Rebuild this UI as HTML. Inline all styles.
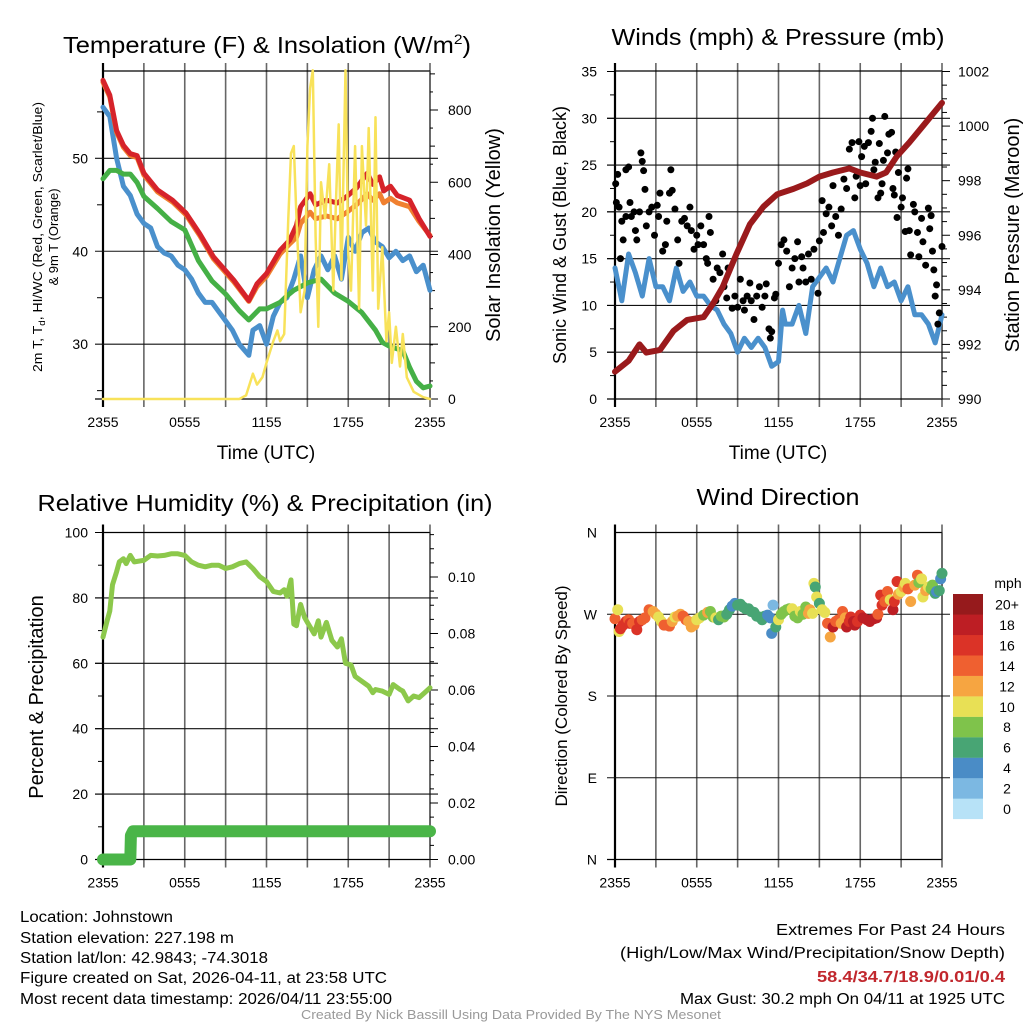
<!DOCTYPE html>
<html><head><meta charset="utf-8">
<style>
html,body{margin:0;padding:0;background:#fff;}
svg{display:block;font-family:"Liberation Sans",sans-serif;}
.nar{font-family:"Liberation Sans Narrow","Liberation Sans",sans-serif;}
</style></head>
<body>
<svg id="fig" width="1024" height="1024" viewBox="0 0 1024 1024" xmlns="http://www.w3.org/2000/svg">
<g id="layer"></g>
<text class="nar" x="267" y="53" font-size="23" text-anchor="middle" textLength="408" lengthAdjust="spacingAndGlyphs">Temperature (F) &amp; Insolation (W/m<tspan dy="-9" font-size="14">2</tspan><tspan dy="9">)</tspan></text>
<text class="nar" x="778" y="45" font-size="23" text-anchor="middle" textLength="333" lengthAdjust="spacingAndGlyphs">Winds (mph) &amp; Pressure (mb)</text>
<text class="nar" x="265" y="511" font-size="23" text-anchor="middle" textLength="455" lengthAdjust="spacingAndGlyphs">Relative Humidity (%) &amp; Precipitation (in)</text>
<text class="nar" x="778" y="505" font-size="23" text-anchor="middle" textLength="163" lengthAdjust="spacingAndGlyphs">Wind Direction</text>

<text font-size="13" text-anchor="middle" transform="translate(42,237) rotate(-90)" textLength="270" lengthAdjust="spacingAndGlyphs">2m T, T<tspan font-size="9" dy="3">d</tspan><tspan dy="-3">, HI/WC (Red, Green, Scarlet/Blue)</tspan></text>
<text font-size="13" text-anchor="middle" transform="translate(58,237) rotate(-90)">&amp; 9m T (Orange)</text>
<text font-size="20" text-anchor="middle" transform="translate(500,235) rotate(-90)">Solar Insolation (Yellow)</text>
<text font-size="18" text-anchor="middle" transform="translate(566,235) rotate(-90)">Sonic Wind &amp; Gust (Blue, Black)</text>
<text font-size="20" text-anchor="middle" transform="translate(1019,235) rotate(-90)">Station Pressure (Maroon)</text>
<text font-size="20" text-anchor="middle" transform="translate(43,697) rotate(-90)">Percent &amp; Precipitation</text>
<text font-size="17" text-anchor="middle" transform="translate(567,696) rotate(-90)">Direction (Colored By Speed)</text>
<text font-size="19" x="266" y="459" text-anchor="middle">Time (UTC)</text>
<text font-size="19" x="778" y="459" text-anchor="middle">Time (UTC)</text>

<g class="nar" font-size="15.5">
<text x="20" y="922" textLength="153" lengthAdjust="spacingAndGlyphs">Location: Johnstown</text>
<text x="20" y="943" textLength="214" lengthAdjust="spacingAndGlyphs">Station elevation: 227.198 m</text>
<text x="20" y="963" textLength="248" lengthAdjust="spacingAndGlyphs">Station lat/lon: 42.9843; -74.3018</text>
<text x="20" y="983" textLength="367" lengthAdjust="spacingAndGlyphs">Figure created on Sat, 2026-04-11, at 23:58 UTC</text>
<text x="20" y="1004" textLength="372" lengthAdjust="spacingAndGlyphs">Most recent data timestamp: 2026/04/11 23:55:00</text>
</g>
<g class="nar" font-size="15.5" text-anchor="end">
<text x="1005" y="935" textLength="229" lengthAdjust="spacingAndGlyphs">Extremes For Past 24 Hours</text>
<text x="1005" y="958" textLength="385" lengthAdjust="spacingAndGlyphs">(High/Low/Max Wind/Precipitation/Snow Depth)</text>
<text x="1005" y="982" fill="#c1272d" font-weight="bold" textLength="188" lengthAdjust="spacingAndGlyphs">58.4/34.7/18.9/0.01/0.4</text>
<text x="1005" y="1004" textLength="325" lengthAdjust="spacingAndGlyphs">Max Gust: 30.2 mph On 04/11 at 1925 UTC</text>
</g>
<text class="nar" x="511" y="1019" font-size="12.5" fill="#999" text-anchor="middle" textLength="420" lengthAdjust="spacingAndGlyphs">Created By Nick Bassill Using Data Provided By The NYS Mesonet</text>
</svg>
<script>
// ---------- DATA ----------
const timeTicks = ["2355","0555","1155","1755","2355"];
const tempTicks = [30,40,50];
const solarTicks = [0,200,400,600,800];
const windTicks = [0,5,10,15,20,25,30,35];
const presTicks = [990,992,994,996,998,1000,1002];
const rhTicks = [0,20,40,60,80,100];
const precipTicks = ["0.00","0.02","0.04","0.06","0.08","0.10"];
const dirTicks = ["N","E","S","W","N"];
const speedLabels = ["0","2","4","6","8","10","12","14","16","18","20+"];
const speedColors = ["#b7e2f7","#7cb8e2","#4a8cc6","#48a574","#7fc34b","#e8e055","#f6a541","#ef6030","#db3327","#bd1e24","#961a1c"];

const tempT = [0,0.5,1,1.5,2,2.5,3,4,5.1,6.1,7.1,8.1,9.6,10.7,11.3,12,13,13.7,14.2,14.5,15.2,15.6,16.4,17.2,17.9,18.6,19.4,19.8,20.3,20.6,21.1,21.6,22.5,23.2,24];
const tempRed = [58.4,56.8,53,51.4,50.5,50.3,48.4,46.6,45.5,44.1,41.9,39.4,36.9,34.7,36.5,37.6,40.1,41.2,42.8,44.8,46.2,45,45.5,45.2,45.9,46.8,48.4,47.2,48,46.5,47,46,45.5,43.5,41.6];
const tempOrange = [58.2,56.6,52.8,51.2,50.3,50.1,48.2,46.4,45.3,43.9,41.7,39.2,36.7,34.6,36.2,37.3,39.7,40.8,41.5,43,44.2,43.5,43.8,43.5,44.2,45,46.2,45.5,46.2,45.2,45.7,45.2,44.8,43.2,41.7];
const tdT = [0,0.5,1,1.5,2,2.5,3,4,5,6,7,8,9,10,10.7,11.5,12,13,13.5,14,15,16,17,18,19,20,20.5,21,22,22.5,23,23.5,24];
const tempGreen = [47.8,48.7,48.7,48.3,48.3,47.4,45.9,44.6,43.2,42.3,39,36.8,35.4,33.6,32.6,33.8,33.8,34.5,35.2,35.8,36.6,37,35.5,34.6,33.4,31.5,30.2,29.8,29.3,27.5,26,25.3,25.5];
const wcT = [0,0.5,1,1.5,2,2.5,3,3.5,4,4.5,5,5.5,6,6.5,7,7.5,8,8.5,9,9.5,10,10.7,11,11.5,12,12.5,13,13.5,14,14.5,15,15.5,16,16.5,17,17.5,18,18.5,19,19.5,20,20.5,21,21.5,22,22.5,23,23.5,24];
const tempBlue = [55.5,54.5,50,47,46,44,43,42.5,40.5,39.8,39.5,38.5,38,37,35.5,34.5,34.5,33.5,32.5,31.5,30,28.8,31.5,32,30,33,34.5,35,37,39.5,35,38,39.5,38,39.5,37,41.5,40,42,42.5,41,40.5,39.3,40,39,39.5,37.8,38.5,35.8];
const solarT = [0,10,10.5,11,11.3,11.7,12,12.5,12.8,13,13.3,13.6,13.8,14,14.2,14.5,14.8,15,15.2,15.4,15.6,15.8,16,16.3,16.6,16.9,17.1,17.3,17.5,17.8,18,18.2,18.5,18.8,19,19.3,19.5,19.8,20,20.2,20.5,20.8,21,21.2,21.5,21.8,22,22.3,22.8,23.5,24];
const solarW = [0,0,10,70,40,60,100,160,190,160,180,500,680,700,500,240,300,700,860,910,450,200,600,500,650,300,550,760,330,910,400,300,700,250,700,480,750,300,780,250,420,160,240,100,200,90,180,60,20,5,0];

const presT = [0,1,1.8,2.3,3.3,4.3,5.3,6.5,7.2,7.9,8.9,9.9,10.9,11.9,13.1,14.1,15,16,17.2,18,19.2,19.9,20.7,21.6,22.6,24];
const pressure = [991.0,991.4,992.0,991.7,991.8,992.5,992.9,993.0,993.5,994.1,995.3,996.4,997.05,997.5,997.7,997.9,998.15,998.3,998.45,998.3,998.15,998.3,998.9,999.4,1000.0,1000.85];
const windT = [0,0.5,1,1.5,2,2.5,3,3.5,4,4.5,5,5.5,6,6.5,7,7.5,8,8.5,9,9.5,10,10.5,11,11.5,12,12.3,12.5,13,13.5,14,14.5,15,15.5,16,16.5,17,17.5,18,18.5,19,19.5,20,20.5,21,21.5,22,22.5,23,23.5,24];
const windSpd = [14,10.5,15.5,13.5,11,15,12,12,10.5,14,11.5,12.5,11,11,10,9.5,8,7,5,6.5,5.5,6.5,5.5,3.5,4,9.5,8,8,10,7,12,13,14,12.5,15,17.5,18,16,14.5,12,14,12,12.5,10.5,12,9,9,8,6,9];
const gustT = [0.05,0.1,0.2,0.3,0.4,0.5,0.6,0.8,0.8,1,1.1,1.2,1.4,1.5,1.6,1.8,1.9,2,2.1,2.2,2.3,2.5,2.7,2.9,3.1,3.2,3.3,3.5,3.7,3.8,4,4.1,4.2,4.4,4.6,4.7,4.9,5.1,5.3,5.5,5.6,5.8,6,6.1,6.3,6.5,6.7,6.8,6.9,7,7.2,7.4,7.5,7.7,7.9,8,8.2,8.3,8.6,8.8,9,9.2,9.4,9.5,9.7,9.9,10,10.2,10.4,10.6,10.8,11,11.1,11.3,11.4,11.5,11.7,11.8,12,12.2,12.4,12.6,12.8,13,13.2,13.4,13.5,13.7,13.8,14,14.2,14.4,14.6,14.9,15,15.2,15.3,15.5,15.7,15.9,16,16.2,16.4,16.6,16.8,17,17.2,17.4,17.6,17.7,17.9,18,18.1,18.3,18.4,18.6,18.8,18.9,19,19.1,19.3,19.4,19.5,19.6,19.7,19.8,20,20.1,20.3,20.4,20.5,20.6,20.7,20.8,21,21.1,21.3,21.4,21.5,21.6,21.7,21.9,22,22.2,22.3,22.5,22.6,22.8,23,23.1,23.2,23.3,23.4,23.5,23.6,23.7,23.8,24];
const gustSpd = [23,21,24,20.5,15,19,17,19.5,24.5,24.8,21,19.5,20,18,17,20,26.3,25.4,24.4,22.4,18.5,20,20.5,17.5,20.7,19.5,22,15.8,16.5,19,22,24.5,22.3,20.3,17,14.5,19,19.3,18.5,20.5,18,16,17.5,16.5,18.5,16.5,15,14.5,19.5,17.8,12.8,10.5,14,13.5,15.5,12,10.8,14,9.7,11,9.8,12.8,10.5,9.5,11,12.4,10.5,8.5,11,12,9.8,11,12.3,7.5,6.5,7.2,10.8,11.2,14.5,16.5,17,15.8,12,14,15,16.8,12.5,15.2,14,12.5,15.5,12.8,16,11.3,16.9,21.2,17.8,19.8,20.5,18.5,22.8,19.5,17.5,20.3,23.5,22.5,26.7,27.4,21.5,23.8,27.5,22.8,25.9,27,23,27.4,28.6,30,24.5,25.3,21.5,27.3,22,23,25.5,30.2,26.3,28.3,28.5,22.5,21.8,26.4,19.4,24.2,20.5,21.5,17.9,23.6,24.6,18,15.4,20.8,20,17.8,15.2,19.3,16.8,14.3,20.4,18.2,19.6,15.8,13.8,11,12.2,8,9.2,16.3];

const rhT = [0,0.3,0.5,0.7,1,1.2,1.5,1.7,2,2.3,3,3.5,4,4.5,5,5.5,6,6.5,7,7.5,8,8.5,9,9.5,10,10.5,11,11.5,12,12.5,13,13.3,13.5,13.8,14,14.2,14.5,14.8,15,15.5,15.8,16,16.4,16.8,17.2,17.5,17.8,18.2,18.5,19,19.5,19.8,20,20.5,21,21.3,21.8,22,22.4,22.8,23.2,23.6,24];
const rh = [68,73,76,84,88,91,92,90.5,93,91,91.5,93,92.8,93,93.5,93.5,93,91,90,89.5,90,90,89,89.5,90.5,91,89,86.5,85,82,81.5,82.5,80.5,85.5,72,71.5,78,74,72.5,69,73,68,72.5,67,65,67.5,60,59.5,56,54.5,53,51,52,51.5,50.5,53.5,52,51.5,48.5,50,49.5,51,52.5];
const precipT = [0,1,2,2.05,2.2,3,6,12,18,24];
const precip = [0,0,0,0.0085,0.01,0.01,0.01,0.01,0.01,0.01];

const dirT = [0,0.2,0.3,0.4,0.6,0.8,1,1.1,1.3,1.5,1.6,1.8,2,2.2,2.5,2.8,3,3.2,3.4,3.6,3.8,4,4.2,4.4,4.6,4.8,5,5.2,5.4,5.6,5.8,6,6.2,6.5,6.8,7,7.2,7.4,7.6,7.8,8,8.2,8.4,8.6,8.8,9,9.2,9.4,9.6,9.8,10,10.2,10.4,10.6,10.8,11,11.2,11.4,11.5,11.6,11.8,12,12.2,12.4,12.6,12.8,13,13.2,13.4,13.6,13.8,14,14.2,14.3,14.5,14.6,14.7,14.8,15,15.2,15.4,15.6,15.8,16,16.2,16.4,16.6,16.7,16.9,17,17.2,17.3,17.5,17.6,17.8,18,18.2,18.5,18.7,19,19.2,19.3,19.5,19.6,19.8,20,20.2,20.4,20.5,20.7,20.8,21,21.2,21.3,21.5,21.7,22,22.2,22.3,22.5,22.6,22.8,23,23.2,23.3,23.5,23.6,23.8,23.9,24];
const dirDeg = [265,275,251,254,258,262,264,260,260,258,253,262,264,266,275,273,270,267,262,258,258,257,262,267,268,270,268,264,262,256,258,264,266,269,272,273,267,266,264,268,267,270,275,279,282,280,281,278,276,276,273,272,268,267,264,268,269,266,249,280,256,264,270,273,275,276,276,268,266,273,270,278,271,275,271,304,300,289,282,275,272,260,245,256,262,264,260,273,266,256,262,267,262,258,262,269,266,264,262,265,266,270,291,280,284,295,286,275,284,306,292,295,300,304,298,284,302,313,305,309,289,296,300,298,302,293,295,296,309,315,308];
const dirSpd = [14,10,10,16,16,16,14,16,14,14,16,16,14,14,14,12,12,10,10,14,14,14,12,10,12,12,14,14,12,12,12,10,10,8,12,8,8,10,6,8,8,6,6,4,4,6,6,6,6,6,6,6,6,6,6,6,4,4,4,2,6,10,8,8,8,8,10,8,8,10,8,8,12,12,10,10,6,10,6,10,10,14,12,18,14,14,12,14,12,18,16,16,18,18,16,16,18,18,18,18,18,14,16,16,14,14,10,18,16,16,12,10,12,10,14,12,12,14,8,10,10,12,10,8,8,6,4,6,4,6,8];

// ---------- DRAWING ----------
const NS = "http://www.w3.org/2000/svg";
const layer = document.getElementById('layer');
function mk(tag, attrs, parent){
  const e = document.createElementNS(NS, tag);
  for (const k in attrs) e.setAttribute(k, attrs[k]);
  (parent||layer).appendChild(e);
  return e;
}
function lin(d0,d1,r0,r1){ return v => r0 + (v-d0)/(d1-d0)*(r1-r0); }

function frame(p, name){
  const g = mk('g', {});
  
  
  for (let h=0; h<=24; h+=3){
    const x = p.x(h);
    const l = mk('line', {x1:x, x2:x, y1:p.top-8, y2:p.bot+8, stroke:(h===0?'#000':'#666'), 'stroke-width':(h===0?2.2:1.6)}, g);
    
    
  }
  mk('line', {x1:p.left, x2:p.right, y1:p.top, y2:p.top, stroke:'#000', 'stroke-width':1.3}, g);
  mk('line', {x1:p.left-8, x2:p.right, y1:p.bot, y2:p.bot, stroke:'#000', 'stroke-width':1.3}, g);
  mk('line', {x1:p.right, x2:p.right, y1:p.top, y2:p.bot, stroke:'#444', 'stroke-width':1.2}, g);
  timeTicks.forEach((t,i) => {
    const tx = mk('text', {x:p.x(i*6), y:p.bot+28, 'font-size':14, 'text-anchor':'middle'}, g);
    tx.textContent = t;
    
    
  });
  return g;
}
function hgrid(p, y, draw){
  if (draw) mk('line', {x1:p.left-8, x2:p.right+8, y1:y, y2:y, stroke:'#111', 'stroke-width':1.1});
}
function polyline(xs, ys, fx, fy, color, w, name){
  const pts = xs.map((t,i) => fx(t).toFixed(1)+','+fy(ys[i]).toFixed(1)).join(' ');
  const e = mk('polyline', {points:pts, fill:'none', stroke:color, 'stroke-width':w, 'stroke-linejoin':'round', 'stroke-linecap':'round'});
  
  
  return e;
}
function label(x,y,txt,anchor,size){
  const t = mk('text', {x:x, y:y, 'font-size':size||14, 'text-anchor':anchor||'end'});
  t.textContent = txt;
  
  
}

// Panel 1: Temperature
const P1 = {left:103, right:430, top:71, bot:399};
P1.x = lin(0,24,P1.left,P1.right);
const yT = lin(24.1,59.4,P1.bot,P1.top);
const yS = lin(0,800,399,110);
frame(P1,'temperature');
tempTicks.forEach(v => { hgrid(P1, yT(v), true); label(88, yT(v)+5, v); });
[25,35,45,55].forEach(v => mk('line',{x1:97,x2:103,y1:yT(v),y2:yT(v),stroke:'#000','stroke-width':1}));
solarTicks.forEach(v => { mk('line',{x1:430,x2:438,y1:yS(v),y2:yS(v),stroke:'#000','stroke-width':1}); label(448, yS(v)+5, v, 'start'); });
for (let v=100; v<=900; v+=200) mk('line',{x1:430,x2:435,y1:yS(v),y2:yS(v),stroke:'#000','stroke-width':1});
for (let v=50; v<=900; v+=100) mk('line',{x1:430,x2:433,y1:yS(v),y2:yS(v),stroke:'#000','stroke-width':1});
polyline(wcT, tempBlue, P1.x, yT, '#4a90cc', 5, 'wind-chill-line');
polyline(tdT, tempGreen, P1.x, yT, '#45b046', 5, 'dewpoint-line');
polyline(tempT, tempOrange, P1.x, yT, '#f08030', 5, '9m-temperature-line');
polyline(tempT, tempRed, P1.x, yT, '#d6232a', 5, '2m-temperature-line');
polyline(solarT, solarW, P1.x, yS, '#f8e25a', 2.5, 'solar-insolation-line');

// Panel 2: Winds & Pressure
const P2 = {left:615, right:942, top:71, bot:399};
P2.x = lin(0,24,P2.left,P2.right);
const yW = lin(0,35,399,71.5);
const yP = lin(990,1002,399,71.5);
frame(P2,'winds');
windTicks.forEach(v => { hgrid(P2, yW(v), v>0 && v<35); mk('line',{x1:607,x2:615,y1:yW(v),y2:yW(v),stroke:'#000','stroke-width':1}); label(597, yW(v)+5, v); });
for (let v=2.5; v<35; v+=5) mk('line',{x1:610,x2:615,y1:yW(v),y2:yW(v),stroke:'#000','stroke-width':1});
presTicks.forEach(v => { mk('line',{x1:942,x2:950,y1:yP(v),y2:yP(v),stroke:'#000','stroke-width':1}); label(958, yP(v)+5, v, 'start'); });
for (let v=990.5; v<1002; v+=0.5) if (v%2) mk('line',{x1:942,x2:947,y1:yP(v),y2:yP(v),stroke:'#000','stroke-width':1});
polyline(windT, windSpd, P2.x, yW, '#4a90cc', 5, 'sonic-wind-line');
gustT.forEach((t,i) => {
  const c = mk('circle', {cx:P2.x(t), cy:yW(gustSpd[i]), r:3.5, fill:'#000'});
  
  
});
polyline(presT, pressure, P2.x, yP, '#9a1a1c', 6, 'station-pressure-line');

// Panel 3: RH & Precip
const P3 = {left:103, right:430, top:532.5, bot:859.5};
P3.x = lin(0,24,P3.left,P3.right);
const yR = lin(0,100,859.5,532.5);
const yPr = lin(0,0.1,859.5,577);
frame(P3,'humidity');
rhTicks.forEach(v => { hgrid(P3, yR(v), v>0 && v<100); mk('line',{x1:95,x2:103,y1:yR(v),y2:yR(v),stroke:'#000','stroke-width':1}); label(88, yR(v)+5, v); });
for (let v=10; v<100; v+=20) mk('line',{x1:98,x2:103,y1:yR(v),y2:yR(v),stroke:'#000','stroke-width':1});
precipTicks.forEach(v => { mk('line',{x1:430,x2:438,y1:yPr(+v),y2:yPr(+v),stroke:'#000','stroke-width':1}); label(448, yPr(+v)+5, v, 'start'); });
for (let v=0.005; v<0.116; v+=0.005) mk('line',{x1:430,x2:434,y1:yPr(v),y2:yPr(v),stroke:'#000','stroke-width':1});
polyline(rhT, rh, P3.x, yR, '#8cc84b', 5, 'relative-humidity-line');
polyline(precipT, precip, P3.x, yPr, '#4ab548', 12, 'precipitation-line');

// Panel 4: Wind direction
const P4 = {left:615, right:942, top:532.5, bot:859.5};
P4.x = lin(0,24,P4.left,P4.right);
const yD = lin(0,360,859.5,532.5);
frame(P4,'direction');
dirTicks.forEach((d,i) => { hgrid(P4, yD(i*90), i>0 && i<4); label(597, yD(i*90)+5, d); });
dirT.forEach((t,i) => {
  const idx = Math.min(10, Math.floor(dirSpd[i]/2));
  const c = mk('circle', {cx:P4.x(t), cy:yD(dirDeg[i]), r:5.5, fill:speedColors[idx]});
  
  
});
// colorbar
const cb = mk('g', {});


const mph = mk('text', {x:1008, y:588, 'font-size':14, 'text-anchor':'middle'}, cb);
mph.textContent = 'mph';


speedLabels.forEach((s,i) => {
  const k = 10 - i;
  const y0 = 594 + k*20.45;
  const r = mk('rect', {x:953, y:y0, width:30, height:20.6, fill:speedColors[i]}, cb);
  
  
  const t = mk('text', {x:1007, y:y0+15.5, 'font-size':14, 'text-anchor':'middle'}, cb);
  t.textContent = s;
  
  
});
</script>
</body></html>
